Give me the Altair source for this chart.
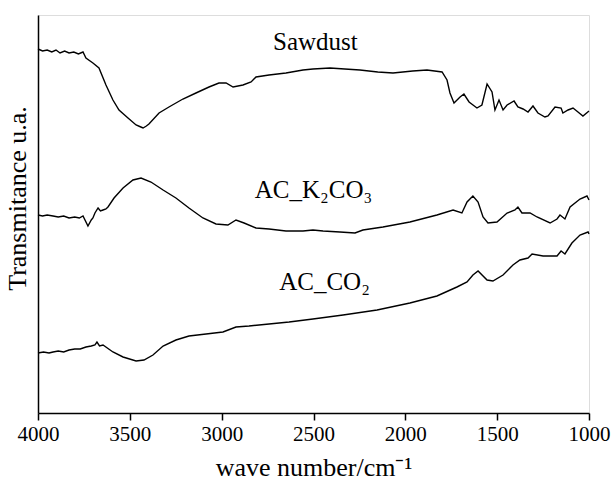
import altair as alt
import pandas as pd

# Sawdust spectrum (wavenumber cm-1, transmittance a.u.)
saw_wn = [4000, 3975, 3950, 3925, 3902, 3880, 3855, 3831, 3805, 3780, 3755, 3739, 3701, 3668, 3630,
          3592, 3559, 3510, 3466, 3440, 3428, 3410, 3396, 3341, 3287, 3211, 3140, 3069, 3015, 2976,
          2938, 2884, 2840, 2813, 2742, 2650, 2557, 2503, 2410, 2330, 2247, 2150, 2067, 1960, 1882,
          1800, 1773, 1757, 1735, 1702, 1681, 1653, 1610, 1583, 1555, 1528, 1512, 1490, 1468, 1446,
          1408, 1387, 1359, 1332, 1305, 1278, 1240, 1223, 1185, 1152, 1142, 1114, 1087, 1060, 1033, 1000]
saw_t = [364, 362, 363, 361, 363, 360, 362, 360, 361, 359, 361, 355, 350, 345, 328,
         313, 303, 295, 288, 286, 285, 287, 289, 300, 306, 314, 320, 326, 330, 330,
         326, 328, 331, 336, 338, 340, 343, 344, 345, 344, 343, 341, 340, 342, 343,
         341, 333, 320, 310, 316, 319, 311, 305, 308, 329, 321, 303, 313, 303, 308,
         312, 306, 304, 301, 307, 300, 296, 297, 306, 305, 300, 303, 305, 301, 297, 302]

# AC_K2CO3 spectrum
k_wn = [4000, 3975, 3950, 3918, 3890, 3860, 3831, 3800, 3775, 3755, 3728, 3710, 3701, 3690, 3673,
        3660, 3646, 3630, 3619, 3586, 3537, 3483, 3439, 3385, 3319, 3249, 3178, 3102, 3031, 2966,
        2922, 2878, 2813, 2742, 2650, 2557, 2503, 2448, 2356, 2274, 2231, 2122, 1975, 1828, 1740,
        1692, 1664, 1632, 1604, 1577, 1550, 1501, 1446, 1403, 1387, 1365, 1321, 1283, 1212, 1174,
        1158, 1131, 1103, 1049, 1011, 1000]
k_t = [198, 197, 198, 197, 196, 197, 195, 196, 195, 197, 187, 193, 195, 200, 205,
       202, 203, 204, 206, 215, 225, 233, 235, 231, 223, 215, 205, 195, 189, 188,
       193, 190, 185, 184, 182, 182, 183, 182, 181, 180, 183, 186, 191, 198, 203,
       200, 211, 217, 211, 196, 190, 191, 200, 203, 206, 200, 200, 196, 190, 194,
       198, 194, 206, 214, 217, 213]

# AC_CO2 spectrum
co2_wn = [4000, 3970, 3940, 3918, 3890, 3860, 3831, 3800, 3770, 3739, 3710, 3690, 3679, 3665, 3646,
          3592, 3537, 3466, 3423, 3374, 3319, 3249, 3178, 3085, 2993, 2922, 2851, 2742, 2633, 2503,
          2339, 2154, 1975, 1828, 1719, 1664, 1632, 1604, 1555, 1523, 1468, 1414, 1376, 1332, 1310,
          1250, 1174, 1152, 1131, 1093, 1049, 1005, 1000]
co2_t = [60, 61, 60, 61, 62, 61, 63, 64, 64, 66, 67, 68, 71, 67, 68,
         61, 56, 52, 53, 58, 67, 73, 77, 79, 81, 86, 87, 89, 91, 94,
         98, 103, 110, 117, 126, 131, 138, 142, 133, 132, 138, 148, 153, 155, 159,
         157, 157, 162, 159, 170, 178, 181, 179]

label_text = ["Sawdust", "AC_K\u2082CO\u2083", "AC_CO\u2082"]
label_wn = [2490, 2500, 2440]
label_t = [371, 223, 131]

ticks = [4000, 3500, 3000, 2500, 2000, 1500, 1000]

rows = []
for name, wn, t in [("Sawdust", saw_wn, saw_t), ("AC_K2CO3", k_wn, k_t), ("AC_CO2", co2_wn, co2_t)]:
    for a, b in zip(wn, t):
        rows.append({"series": name, "wn": a, "t": b, "order": -a})
df = pd.DataFrame(rows)
lab = pd.DataFrame({"text": label_text, "wn": label_wn, "t": label_t})

FONT = "Liberation Serif"

xscale = alt.Scale(domain=[4000, 1000], nice=False)
yscale = alt.Scale(domain=[0, 398], nice=False)

lines = alt.Chart(df).mark_line(color="black", strokeWidth=1.4).encode(
    x=alt.X("wn:Q", scale=xscale,
            axis=alt.Axis(values=ticks, format="d", title="wave number/cm\u207b\u00b9",
                          labelFont=FONT, labelFontSize=21, labelColor="black", labelFlush=False,
                          labelPadding=3, tickSize=7, tickWidth=1.5, tickColor="black",
                          domain=True, domainColor="black", domainWidth=1.5,
                          grid=False, titleFont=FONT, titleFontSize=26,
                          titleFontWeight="normal", titleColor="black", titlePadding=10)),
    y=alt.Y("t:Q", scale=yscale,
            axis=alt.Axis(title="Transmitance u.a.", labels=False, ticks=False,
                          domain=True, domainColor="black", domainWidth=1.5,
                          grid=False, titleFont=FONT, titleFontSize=26, titleFontWeight="normal",
                          titleColor="black", titlePadding=8, titleY=183)),
    detail="series:N",
    order="order:Q",
)

texts = alt.Chart(lab).mark_text(font=FONT, fontSize=25, color="black",
                                 align="center", baseline="middle").encode(
    x=alt.X("wn:Q", scale=xscale),
    y=alt.Y("t:Q", scale=yscale),
    text="text:N",
)

chart = alt.layer(lines, texts).properties(
    width=551, height=398,
    autosize=alt.AutoSizeParams(type="none"),
    padding={"left": 38, "top": 15, "right": 22, "bottom": 79},
).configure_view(stroke="black", strokeWidth=1.5).configure(background="white")

chart.save("out.html", embed_options={"renderer": "svg", "actions": False})
